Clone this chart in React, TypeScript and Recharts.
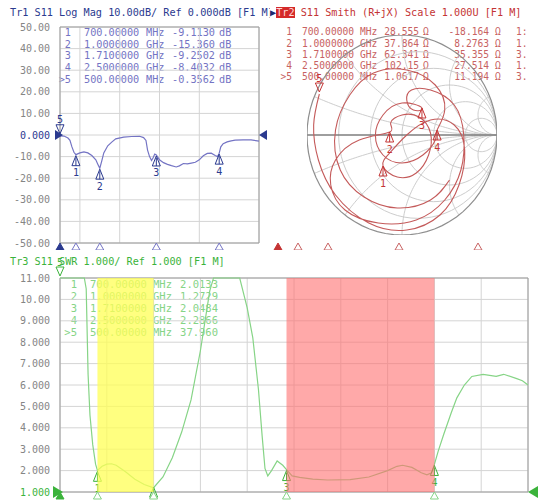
import { LineChart, Line, XAxis, YAxis, CartesianGrid, ReferenceArea, ReferenceDot } from 'recharts';

const MONO = '"DejaVu Sans Mono", "Liberation Mono", monospace';

// stimulus axis, MHz
const freqTicks = [500, 750, 1000, 1250, 1500, 1750, 2000, 2250, 2500, 2750, 3000];

// Tr1 S11 log mag
const magFreq = [500, 550, 600, 625, 650, 675, 700, 750, 800, 850, 900, 950, 975, 1000, 1025, 1050, 1100, 1150, 1200, 1300, 1400, 1500, 1550, 1580, 1600, 1625, 1650, 1670, 1690, 1710, 1750, 1800, 1850, 1900, 1960, 2000, 2050, 2100, 2150, 2200, 2250, 2300, 2350, 2400, 2450, 2480, 2500, 2520, 2550, 2600, 2650, 2700, 2800, 2900, 3000];
const magDb = [-0.36, -0.5, -1.4, -2.5, -5.5, -8, -9.1, -8.3, -7.8, -8.3, -9.5, -11.5, -13.5, -15.4, -12, -8.3, -5, -3.3, -1.8, -1.0, -0.7, -0.6, -1.2, -2.5, -7, -10, -11.8, -10.5, -8.8, -9.25, -11.5, -12.8, -13.6, -14.2, -14.8, -14.3, -13.2, -13.4, -13, -12.6, -11.5, -9.6, -8.5, -8.4, -9.5, -10, -8.4, -5.5, -4, -3.2, -2.7, -2.4, -2.3, -2.3, -2.8];
const magTicks = [-50, -40, -30, -20, -10, 0, 10, 20, 30, 40, 50];

// Tr3 S11 SWR
const swrFreq = [500, 550, 600, 630, 640, 650, 660, 675, 690, 700, 725, 750, 775, 800, 850, 900, 950, 1000, 1050, 1100, 1150, 1200, 1250, 1300, 1320, 1400, 1460, 1500, 1530, 1560, 1580, 1595, 1610, 1630, 1660, 1690, 1710, 1740, 1780, 1850, 1930, 2050, 2150, 2250, 2300, 2330, 2380, 2430, 2460, 2485, 2500, 2520, 2550, 2590, 2620, 2660, 2700, 2760, 2830, 2870, 2940, 2970, 3000];
const swrVal = [37.96, 11, 11, 11, 10.5, 6.5, 4.6, 3.2, 2.3, 2.01, 2.2, 2.3, 2.32, 2.25, 1.95, 1.6, 1.35, 1.2, 1.7, 2.6, 3.8, 5.3, 7.6, 10.4, 11, 11, 11, 9.6, 8.2, 5.8, 3.6, 2.1, 1.75, 2.0, 2.45, 2.25, 2.05, 1.75, 1.68, 1.6, 1.56, 1.58, 1.7, 2.0, 2.2, 2.25, 2.15, 1.9, 1.8, 1.9, 2.29, 2.9, 3.7, 4.7, 5.4, 6.0, 6.4, 6.5, 6.4, 6.5, 6.3, 6.2, 6.0];
const swrTicks = [1, 2, 3, 4, 5, 6, 7, 8, 9, 10, 11];

// Tr2 S11 Smith, reflection coefficient
const smithRe = [-0.87, -0.93, -0.88, -0.7, -0.35, 0.05, 0.4, 0.6, 0.66, 0.55, 0.3, 0.05, -0.13, -0.2, -0.05, 0.15, 0.28, 0.3, 0.18, 0.0, -0.12, -0.13, -0.45, -0.7, -0.75, -0.6, -0.25, 0.15, 0.45, 0.62, 0.65, 0.55, 0.3, 0.1, 0.05, 0.12, 0.21, 0.0, -0.2, -0.28, -0.2, 0.0, 0.22, 0.35, 0.37, 0.45, 0.35, 0.05, -0.3, -0.55, -0.7, -0.65, -0.4, -0.05, 0.3, 0.5];
const smithIm = [0.41, 0.1, -0.25, -0.6, -0.88, -0.95, -0.8, -0.5, -0.15, 0.1, 0.15, 0.0, -0.18, -0.31, -0.42, -0.38, -0.2, 0.02, 0.18, 0.2, 0.12, 0.03, -0.05, -0.25, -0.5, -0.75, -0.88, -0.85, -0.65, -0.35, 0.0, 0.3, 0.45, 0.45, 0.35, 0.25, 0.27, 0.32, 0.2, 0.0, -0.2, -0.28, -0.2, -0.05, 0.05, 0.25, 0.5, 0.65, 0.62, 0.4, 0.05, -0.35, -0.62, -0.73, -0.65, -0.45];
const smithGridR = [0.2, 0.5, 1, 2, 5];
const smithGridX = [0.2, 0.5, 1, 2, 5, -0.2, -0.5, -1, -2, -5];

// markers 1..5
const mkFreq = [700, 1000, 1710, 2500, 500];
const mkFreqText = ['700.00000', '1.0000000', '1.7100000', '2.5000000', '500.00000'];
const mkUnit = ['MHz', 'GHz', 'GHz', 'GHz', 'MHz'];
const mkMag = [-9.113, -15.36, -9.2502, -8.4032, -0.3562];
const mkMagText = ['-9.1130', '-15.360', '-9.2502', '-8.4032', '-0.3562'];
const mkSwr = [2.0133, 1.2729, 2.0484, 2.2866, 37.96];
const mkSwrText = ['2.0133', '1.2729', '2.0484', '2.2866', '37.960'];
const mkRText = ['28.555', '37.864', '62.341', '102.15', '1.0617'];
const mkXText = ['-18.164', '8.2763', '35.355', '27.514', '11.194'];
const mkTail = ['1:', '1.', '3.', '1.', '3.'];
const mkSmithRe = [-0.2, -0.13, 0.21, 0.37, -0.87];
const mkSmithIm = [-0.31, 0.03, 0.27, 0.05, 0.41];

const magData = magFreq.map((f, i) => ({ f, db: magDb[i] }));
const swrData = swrFreq.map((f, i) => ({ f, swr: Math.min(swrVal[i], 11) }));
const smithTrace = smithRe.map((re, i) => ({ re, im: smithIm[i] }));

function gamma(r: number, x: number) {
  const d = (r + 1) * (r + 1) + x * x;
  return { re: (r * r + x * x - 1) / d, im: (2 * x) / d };
}
const steps = Array.from({ length: 73 }, (_, i) => i / 72);
const unitCircle = steps.map((t) => ({ re: Math.cos(t * 2 * Math.PI), im: Math.sin(t * 2 * Math.PI) }));
const rCircles = smithGridR.map((r) =>
  steps.map((t) => ({ re: r / (1 + r) + Math.cos(t * 2 * Math.PI) / (1 + r), im: Math.sin(t * 2 * Math.PI) / (1 + r) }))
);
const xArcs = smithGridX.map((x) => [...steps.slice(0, 72).map((t) => gamma(t / (1 - t), x)), { re: 1, im: 0 }]);
const realAxis = [{ re: -1, im: 0 }, { re: 1, im: 0 }];

const BLUE = '#2b3a8f';
const BLUE_L = '#7474c4';
const GREEN = '#3bb33b';
const GREEN_L = '#86d486';
const RED = '#c43434';
const RED_L = '#c86262';
const GRID = '#d4d4d4';
const FRAME = '#9c9c9c';

type P = { cx?: number; cy?: number };

function upMark(color: string, label: string, dy = 1) {
  return (p: P) => {
    const cx = p.cx ?? 0;
    const cy = (p.cy ?? 0) + dy;
    return (
      <g>
        <path d={`M${cx},${cy}L${cx - 4},${cy + 10}L${cx + 4},${cy + 10}Z`} fill="none" stroke={color} strokeWidth={1} />
        <line x1={cx} y1={cy + 2} x2={cx} y2={cy + 10} stroke={color} strokeWidth={1} />
        {label && (
          <text x={cx} y={cy + 17} textAnchor="middle" dominantBaseline="central" fontFamily={MONO} fontSize={10} fill={color}>
            {label}
          </text>
        )}
      </g>
    );
  };
}

function downMark(color: string, label: string) {
  return (p: P) => {
    const cx = p.cx ?? 0;
    const cy = (p.cy ?? 0) - 2;
    return (
      <g>
        <path d={`M${cx},${cy}L${cx - 4},${cy - 9}L${cx + 4},${cy - 9}Z`} fill="none" stroke={color} strokeWidth={1} />
        <text x={cx} y={cy - 14} textAnchor="middle" dominantBaseline="central" fontFamily={MONO} fontSize={10} fill={color}>
          {label}
        </text>
      </g>
    );
  };
}

function stripMark(color: string, filled: boolean, dy = 0) {
  return (p: P) => {
    const cx = p.cx ?? 0;
    const cy = (p.cy ?? 0) + dy;
    return <path d={`M${cx},${cy}L${cx - 4},${cy + 7}L${cx + 4},${cy + 7}Z`} fill={filled ? color : '#fff'} stroke={color} strokeWidth={1} />;
  };
}

function refMark(color: string, right: boolean, s = 5) {
  return (p: P) => {
    const cx = p.cx ?? 0;
    const cy = p.cy ?? 0;
    const d = right
      ? `M${cx},${cy}L${cx + 2 * s - 2},${cy - s}L${cx + 2 * s - 2},${cy + s}Z`
      : `M${cx + 3},${cy}L${cx - 2 * s + 5},${cy - s}L${cx - 2 * s + 5},${cy + s}Z`;
    return <path d={d} fill={color} />;
  };
}

function yTick(fmt: (v: number) => string, refValue: number, refColor: string) {
  return (props: any) => {
    const v = props.payload.value as number;
    return (
      <text x={props.x} y={props.y} dy="0.35em" textAnchor="end" fontFamily={MONO} fontSize={10} fill={v === refValue ? refColor : '#858585'}>
        {fmt(v)}
      </text>
    );
  };
}

type Col = { x: number; right?: boolean };
function MarkerTable({ top, step, size, color, cols, rows }: { top: number; step: number; size: number; color: string; cols: Col[]; rows: string[][] }) {
  return (
    <>
      {rows.map((row, i) =>
        row.map((cell, j) => {
          const c = cols[j];
          const base = { position: 'absolute' as const, top: top + i * step - size * 0.6, lineHeight: `${size * 1.2}px`, fontSize: size, fontFamily: MONO, color, whiteSpace: 'pre' as const };
          const style = c.right ? { ...base, left: c.x - 120, width: 120, textAlign: 'right' as const } : { ...base, left: c.x };
          return (
            <div key={`${i}-${j}`} style={style}>
              {cell}
            </div>
          );
        })
      )}
    </>
  );
}

const rowNo = (i: number) => (i === 4 ? '>5' : String(i + 1));

function LogMagChart() {
  return (
    <LineChart width={270} height={250} data={magData} margin={{ top: 27, right: 11, bottom: 7, left: 0 }}>
      <CartesianGrid stroke={GRID} />
      <XAxis type="number" dataKey="f" domain={[500, 3000]} ticks={freqTicks} hide />
      <YAxis
        type="number"
        domain={[-50, 50]}
        ticks={magTicks}
        interval={0}
        width={60}
        axisLine={false}
        tickLine={false}
        tickSize={8}
        tick={yTick((v) => (v === 0 ? '0.000' : v.toFixed(2)), 0, BLUE)}
      />
      <ReferenceArea x1={500} x2={3000} y1={-50} y2={50} fill="#fff" fillOpacity={0} stroke={FRAME} />
      <Line dataKey="db" stroke={BLUE_L} strokeWidth={1.2} dot={false} activeDot={false} isAnimationActive={false} />
      {mkFreq.slice(0, 4).map((f, i) => (
        <ReferenceDot key={`m${i}`} x={f} y={mkMag[i]} r={0} shape={upMark(BLUE, String(i + 1))} />
      ))}
      <ReferenceDot x={mkFreq[4]} y={mkMag[4]} r={0} shape={downMark(BLUE, '5')} />
      <ReferenceDot x={500} y={0} r={0} shape={refMark(BLUE, false)} ifOverflow="visible" />
      <ReferenceDot x={3000} y={0} r={0} shape={refMark(BLUE, true)} ifOverflow="visible" />
      {mkFreq.map((f, i) => (
        <ReferenceDot key={`s${i}`} x={f} y={-50} r={0} shape={stripMark(i === 4 ? BLUE : BLUE_L, i === 4)} ifOverflow="visible" />
      ))}
    </LineChart>
  );
}

function SmithChart() {
  return (
    <LineChart width={268} height={250} margin={{ top: 35, right: 41, bottom: 15, left: 37 }}>
      <XAxis type="number" dataKey="re" domain={[-1, 1]} hide allowDataOverflow />
      <XAxis xAxisId="stim" type="number" dataKey="f" domain={[790, 2690]} hide allowDataOverflow />
      <YAxis type="number" domain={[-1, 1]} hide allowDataOverflow />
      {rCircles.map((c, i) => (
        <Line key={`r${i}`} data={c} dataKey="im" stroke="#cdcdcd" strokeWidth={1} dot={false} activeDot={false} isAnimationActive={false} />
      ))}
      {xArcs.map((c, i) => (
        <Line key={`x${i}`} data={c} dataKey="im" stroke="#cdcdcd" strokeWidth={1} dot={false} activeDot={false} isAnimationActive={false} />
      ))}
      <Line data={realAxis} dataKey="im" stroke="#7e7e7e" strokeWidth={1.4} dot={false} activeDot={false} isAnimationActive={false} />
      <Line data={unitCircle} dataKey="im" stroke="#8e8e8e" strokeWidth={1.2} dot={false} activeDot={false} isAnimationActive={false} />
      <Line data={smithTrace} dataKey="im" type="natural" stroke="#c45a5a" strokeWidth={1.1} dot={false} activeDot={false} isAnimationActive={false} />
      {mkSmithRe.slice(0, 4).map((re, i) => (
        <ReferenceDot key={`m${i}`} x={re} y={mkSmithIm[i]} r={0} shape={upMark(RED, String(i + 1), 0)} />
      ))}
      <ReferenceDot x={mkSmithRe[4]} y={mkSmithIm[4]} r={0} shape={downMark(RED, '5')} />
      {mkFreq.map((f, i) => (
        <ReferenceDot key={`s${i}`} xAxisId="stim" x={f} y={-1} r={0} shape={stripMark(i === 4 ? RED : RED_L, i === 4, 8)} ifOverflow="visible" />
      ))}
    </LineChart>
  );
}

function SwrChart() {
  return (
    <LineChart width={538} height={252} data={swrData} margin={{ top: 28, right: 10, bottom: 10, left: 0 }}>
      <CartesianGrid stroke={GRID} />
      <XAxis type="number" dataKey="f" domain={[500, 3000]} ticks={freqTicks} hide />
      <YAxis
        type="number"
        domain={[1, 11]}
        ticks={swrTicks}
        interval={0}
        width={60}
        axisLine={false}
        tickLine={false}
        tickSize={8}
        tick={yTick((v) => (v >= 10 ? v.toFixed(2) : v.toFixed(3)), 1, GREEN)}
      />
      <ReferenceArea x1={500} x2={3000} y1={1} y2={11} fill="#fff" fillOpacity={0} stroke={FRAME} />
      <Line dataKey="swr" stroke={GREEN_L} strokeWidth={1.2} dot={false} activeDot={false} isAnimationActive={false} />
      <ReferenceArea x1={700} x2={1000} y1={1} y2={11} fill="#ffff55" fillOpacity={0.75} stroke="none" zIndex={1000} />
      <ReferenceArea x1={1710} x2={2500} y1={1} y2={11} fill="#ff7070" fillOpacity={0.6} stroke="none" zIndex={1000} />
      {mkFreq.slice(0, 4).map((f, i) => (
        <ReferenceDot key={`m${i}`} x={f} y={mkSwr[i]} r={0} shape={upMark(GREEN, i === 1 ? '' : String(i + 1))} />
      ))}
      <ReferenceDot x={mkFreq[4]} y={11} r={0} shape={downMark(GREEN, '5')} />
      <ReferenceDot x={500} y={1} r={0} shape={refMark(GREEN, false, 6)} ifOverflow="visible" />
      <ReferenceDot x={3000} y={1} r={0} shape={refMark(GREEN, true, 6)} ifOverflow="visible" />
      {mkFreq.map((f, i) => (
        <ReferenceDot key={`s${i}`} x={f} y={1} r={0} shape={stripMark(i === 4 ? GREEN : GREEN_L, i === 4)} ifOverflow="visible" />
      ))}
    </LineChart>
  );
}

const titleStyle = { position: 'absolute' as const, top: 6, fontFamily: MONO, fontSize: 10.2, lineHeight: '13px', whiteSpace: 'pre' as const };

export default function App() {
  return (
    <div style={{ position: 'absolute', left: 0, top: 0, width: 538, height: 502, background: '#fff', overflow: 'hidden' }}>
      <MarkerTable
        top={33}
        step={11.7}
        size={10.2}
        color={BLUE_L}
        cols={[{ x: 71, right: true }, { x: 84 }, { x: 146 }, { x: 215, right: true }, { x: 219 }]}
        rows={mkFreqText.map((t, i) => [rowNo(i), t, mkUnit[i], mkMagText[i], 'dB'])}
      />
      <MarkerTable
        top={32}
        step={11.3}
        size={9.6}
        color={RED_L}
        cols={[{ x: 292, right: true }, { x: 302 }, { x: 360 }, { x: 419, right: true }, { x: 423 }, { x: 489, right: true }, { x: 495 }, { x: 516 }]}
        rows={mkFreqText.map((t, i) => [rowNo(i), t, mkUnit[i], mkRText[i], 'Ω', mkXText[i], 'Ω', mkTail[i]])}
      />
      <MarkerTable
        top={284}
        step={12.1}
        size={10.5}
        color={GREEN_L}
        cols={[{ x: 77, right: true }, { x: 90 }, { x: 153 }, { x: 218, right: true }]}
        rows={mkFreqText.map((t, i) => [rowNo(i), t, mkUnit[i], mkSwrText[i]])}
      />
      <div style={{ position: 'absolute', left: 0, top: 0 }}>
        <LogMagChart />
      </div>
      <div style={{ position: 'absolute', left: 270, top: 0 }}>
        <SmithChart />
      </div>
      <div style={{ position: 'absolute', left: 0, top: 250 }}>
        <SwrChart />
      </div>
      <div style={{ ...titleStyle, left: 10, color: BLUE }}>Tr1 S11 Log Mag 10.00dB/ Ref 0.000dB [F1 M]</div>
      <div style={{ ...titleStyle, left: 270, color: RED, background: '#fff' }}>
        <span style={{ color: '#1c2a70' }}>▶</span>
        <span style={{ background: '#d42a2a', color: '#ffd8d8' }}>Tr2</span>
        {' S11 Smith (R+jX) Scale 1.000U [F1 M]'}
      </div>
      <div style={{ ...titleStyle, top: 255, left: 10, color: GREEN }}>Tr3 S11 SWR 1.000/ Ref 1.000 [F1 M]</div>
    </div>
  );
}
